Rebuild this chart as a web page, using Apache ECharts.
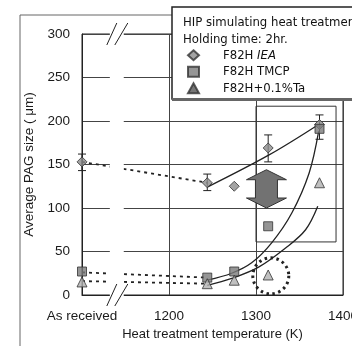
<!DOCTYPE html>
<html><head><meta charset="utf-8">
<script src="https://cdn.jsdelivr.net/npm/echarts@6/dist/echarts.min.js"></script>
<style>html,body{margin:0;padding:0;background:#fff}#c{width:352px;height:346px}</style>
</head><body><div id="c"></div>
<script>
// ---- data ----
const xTicks = [1100, 1200, 1300, 1400];
const xTickText = ['As received', '1200', '1300', '1400'];
const yTicks = [0, 50, 100, 150, 200, 250, 300];

const seriesNames = ['F82H IEA', 'F82H TMCP', 'F82H+0.1%Ta'];
const iea  = [[1100,153],[1244,129],[1275,125],[1314,169],[1373,196]];
const ieaErr = [[1100,143,162],[1244,120,139],[1314,153,184],[1373,179,207]];
const tmcp = [[1100,27],[1244,20],[1275,27],[1314,79],[1373,191]];
const ta   = [[1100,15],[1244,13],[1275,17],[1314,23],[1373,129]];

const ieaDot  = [[1100,153],[1244,129]];
const tmcpDot = [[1100,26],[1244,20]];
const taDot   = [[1100,16],[1244,13]];

const ieaFit  = [[1244,124],[1315,161],[1372,196]];
const tmcpFit = [[1244,17],[1272,25],[1295,37],[1318,60],[1341,94],[1361,140],[1372,188]];
const taFit   = [[1244,11],[1272,19],[1303,32],[1334,54],[1357,75],[1371,102]];

const breakRange   = [[1132,1148]];
const highlightBox = [[1300,61,1392,217]];
const arrowData    = [[1312,144,100]];
const circleData   = [[1317,22]];

const legendTitle = ['HIP simulating heat treatment', 'Holding time: 2hr.'];

// ---- chart ----
const chart = echarts.init(document.getElementById('c'), null, {renderer:'canvas'});
const tickFont = {fontFamily:'Liberation Sans', fontSize:13.5, color:'#1a1a1a'};
const legFont = '"DejaVu Sans Condensed", "DejaVu Sans"';
const ink = '#222';

function lineSeries(data, dashed){
  return {type:'line', data, showSymbol:false, silent:true, z:2,
    smooth: dashed ? false : 0.35,
    lineStyle: dashed ? {color:ink, width:1.8, type:[3,4]} : {color:ink, width:1.3}};
}

chart.setOption({
  animation:false,
  grid:{left:82, right:9, top:34, bottom:51, show:true, borderColor:ink, borderWidth:1,
        outerBoundsMode:'none', containLabel:false},
  xAxis:{type:'value', min:xTicks[0], max:xTicks[xTicks.length-1], interval:100,
    axisLine:{show:true, lineStyle:{color:ink}}, axisTick:{show:false},
    splitLine:{show:true, lineStyle:{color:'#444', width:1}},
    axisLabel:Object.assign({margin:14, showMaxLabel:true, showMinLabel:true, hideOverlap:false,
      formatter:v => { const i = xTicks.indexOf(v); return i>=0 ? xTickText[i] : ''; }}, tickFont),
    name:'Heat treatment temperature (K)', nameLocation:'middle', nameGap:33,
    nameTextStyle:{fontFamily:'Liberation Sans', fontSize:13, color:'#1a1a1a'}},
  yAxis:{type:'value', min:yTicks[0], max:yTicks[yTicks.length-1], interval:50,
    axisLine:{show:true, lineStyle:{color:ink}}, axisTick:{show:false},
    splitLine:{show:true, lineStyle:{color:'#444', width:1}},
    axisLabel:Object.assign({margin:12}, tickFont),
    name:'Average PAG size ( μm)', nameLocation:'middle', nameGap:42, nameRotate:90,
    nameTextStyle:{fontFamily:'Liberation Sans', fontSize:13.5, color:'#1a1a1a'}},
  legend:{
    data:[{name:seriesNames[0], icon:'diamond'},{name:seriesNames[1], icon:'rect'},
          {name:seriesNames[2], icon:'triangle', itemStyle:{color:'#555'}}],
    orient:'vertical', left:187, top:47, padding:0, itemWidth:11, itemHeight:10, itemGap:0,
    selectedMode:false, z:20,
    formatter: n => n === 'F82H IEA' ? 'F82H {i|IEA}' : n,
    textStyle:{fontFamily:legFont, fontSize:13, color:'#111', lineHeight:16.5, padding:[0,0,0,19],
      rich:{i:{fontFamily:legFont, fontStyle:'italic', fontSize:13, color:'#111'}}}
  },
  graphic:[
    {type:'line', shape:{x1:20, y1:15, x2:172, y2:15}, style:{stroke:'#666', lineWidth:1}, z:1},
    {type:'line', shape:{x1:20, y1:15, x2:20, y2:346}, style:{stroke:'#666', lineWidth:1}, z:1},
    {type:'rect', shape:{x:172, y:7, width:200, height:92}, style:{fill:'#fff', stroke:ink, lineWidth:1.5}, z:15},
    {type:'line', shape:{x1:172, y1:99.5, x2:352, y2:99.5}, style:{stroke:'#666', lineWidth:3}, z:15},
    {type:'text', left:183, top:16.5, style:{text:legendTitle[0], font:'13px ' + legFont, fill:'#111'}, z:16},
    {type:'text', left:183, top:33, style:{text:legendTitle[1], font:'13px ' + legFont, fill:'#111'}, z:16}
  ],
  series:[
    lineSeries(ieaDot, true), lineSeries(tmcpDot, true), lineSeries(taDot, true),
    lineSeries(ieaFit, false), lineSeries(tmcpFit, false), lineSeries(taFit, false),
    {type:'custom', silent:true, z:2, data:highlightBox,
      renderItem:(p, api) => {
        const a = api.coord([api.value(0), api.value(3)]);
        const b = api.coord([api.value(2), api.value(1)]);
        return {type:'rect', shape:{x:a[0], y:a[1], width:b[0]-a[0], height:b[1]-a[1]},
          style:{fill:'none', stroke:'#333', lineWidth:1}};
      }},
    {type:'custom', silent:true, z:2, data:arrowData,
      renderItem:(p, api) => {
        const t = api.coord([api.value(0), api.value(1)]);
        const b = api.coord([api.value(0), api.value(2)]);
        const cx = t[0], hw = 20, sw = 11, hh = 10;
        const pts = [[cx,t[1]],[cx+hw,t[1]+hh],[cx+sw,t[1]+hh],[cx+sw,b[1]-hh],[cx+hw,b[1]-hh],
                     [cx,b[1]],[cx-hw,b[1]-hh],[cx-sw,b[1]-hh],[cx-sw,t[1]+hh],[cx-hw,t[1]+hh]];
        return {type:'polygon', shape:{points:pts}, style:{fill:'#727272', stroke:'#333', lineWidth:1}};
      }},
    {type:'custom', silent:true, z:2, data:circleData,
      renderItem:(p, api) => {
        const c = api.coord([api.value(0), api.value(1)]);
        return {type:'circle', shape:{cx:c[0], cy:c[1], r:18},
          style:{fill:'none', stroke:ink, lineWidth:3, lineDash:[2.5,3.5]}};
      }},
    {type:'custom', silent:true, z:2, data:ieaErr,
      renderItem:(p, api) => {
        const lo = api.coord([api.value(0), api.value(1)]);
        const hi = api.coord([api.value(0), api.value(2)]);
        const st = {stroke:ink, lineWidth:1};
        return {type:'group', children:[
          {type:'line', shape:{x1:lo[0], y1:lo[1], x2:hi[0], y2:hi[1]}, style:st},
          {type:'line', shape:{x1:lo[0]-4, y1:lo[1], x2:lo[0]+4, y2:lo[1]}, style:st},
          {type:'line', shape:{x1:hi[0]-4, y1:hi[1], x2:hi[0]+4, y2:hi[1]}, style:st}]};
      }},
    {name:seriesNames[0], type:'scatter', data:iea, symbol:'diamond', symbolSize:10, z:3,
      itemStyle:{color:'#8c8c8c', borderColor:'#333', borderWidth:1}},
    {name:seriesNames[1], type:'scatter', data:tmcp, symbol:'rect', symbolSize:9, z:3,
      itemStyle:{color:'#7a7a7a', borderColor:'#333', borderWidth:1}},
    {name:seriesNames[2], type:'scatter', data:ta, symbol:'triangle', symbolSize:10, z:3,
      itemStyle:{color:'#b0b0b0', borderColor:'#333', borderWidth:1}},
    {type:'custom', silent:true, z:4, data:breakRange,
      renderItem:(p, api) => {
        const a = api.coord([api.value(0), yTicks[yTicks.length-1]]);
        const b = api.coord([api.value(1), yTicks[0]]);
        const cx = (a[0]+b[0])/2;
        const st = {stroke:ink, lineWidth:1};
        const sl = cy => [
          {type:'line', shape:{x1:cx-10, y1:cy+11, x2:cx, y2:cy-11}, style:st},
          {type:'line', shape:{x1:cx-2, y1:cy+11, x2:cx+11, y2:cy-11}, style:st}];
        return {type:'group', children:[
          {type:'rect', shape:{x:a[0], y:a[1]-3, width:b[0]-a[0], height:b[1]-a[1]+6}, style:{fill:'#fff'}}
        ].concat(sl(a[1]), sl(b[1]))};
      }}
  ]
});
</script></body></html>
